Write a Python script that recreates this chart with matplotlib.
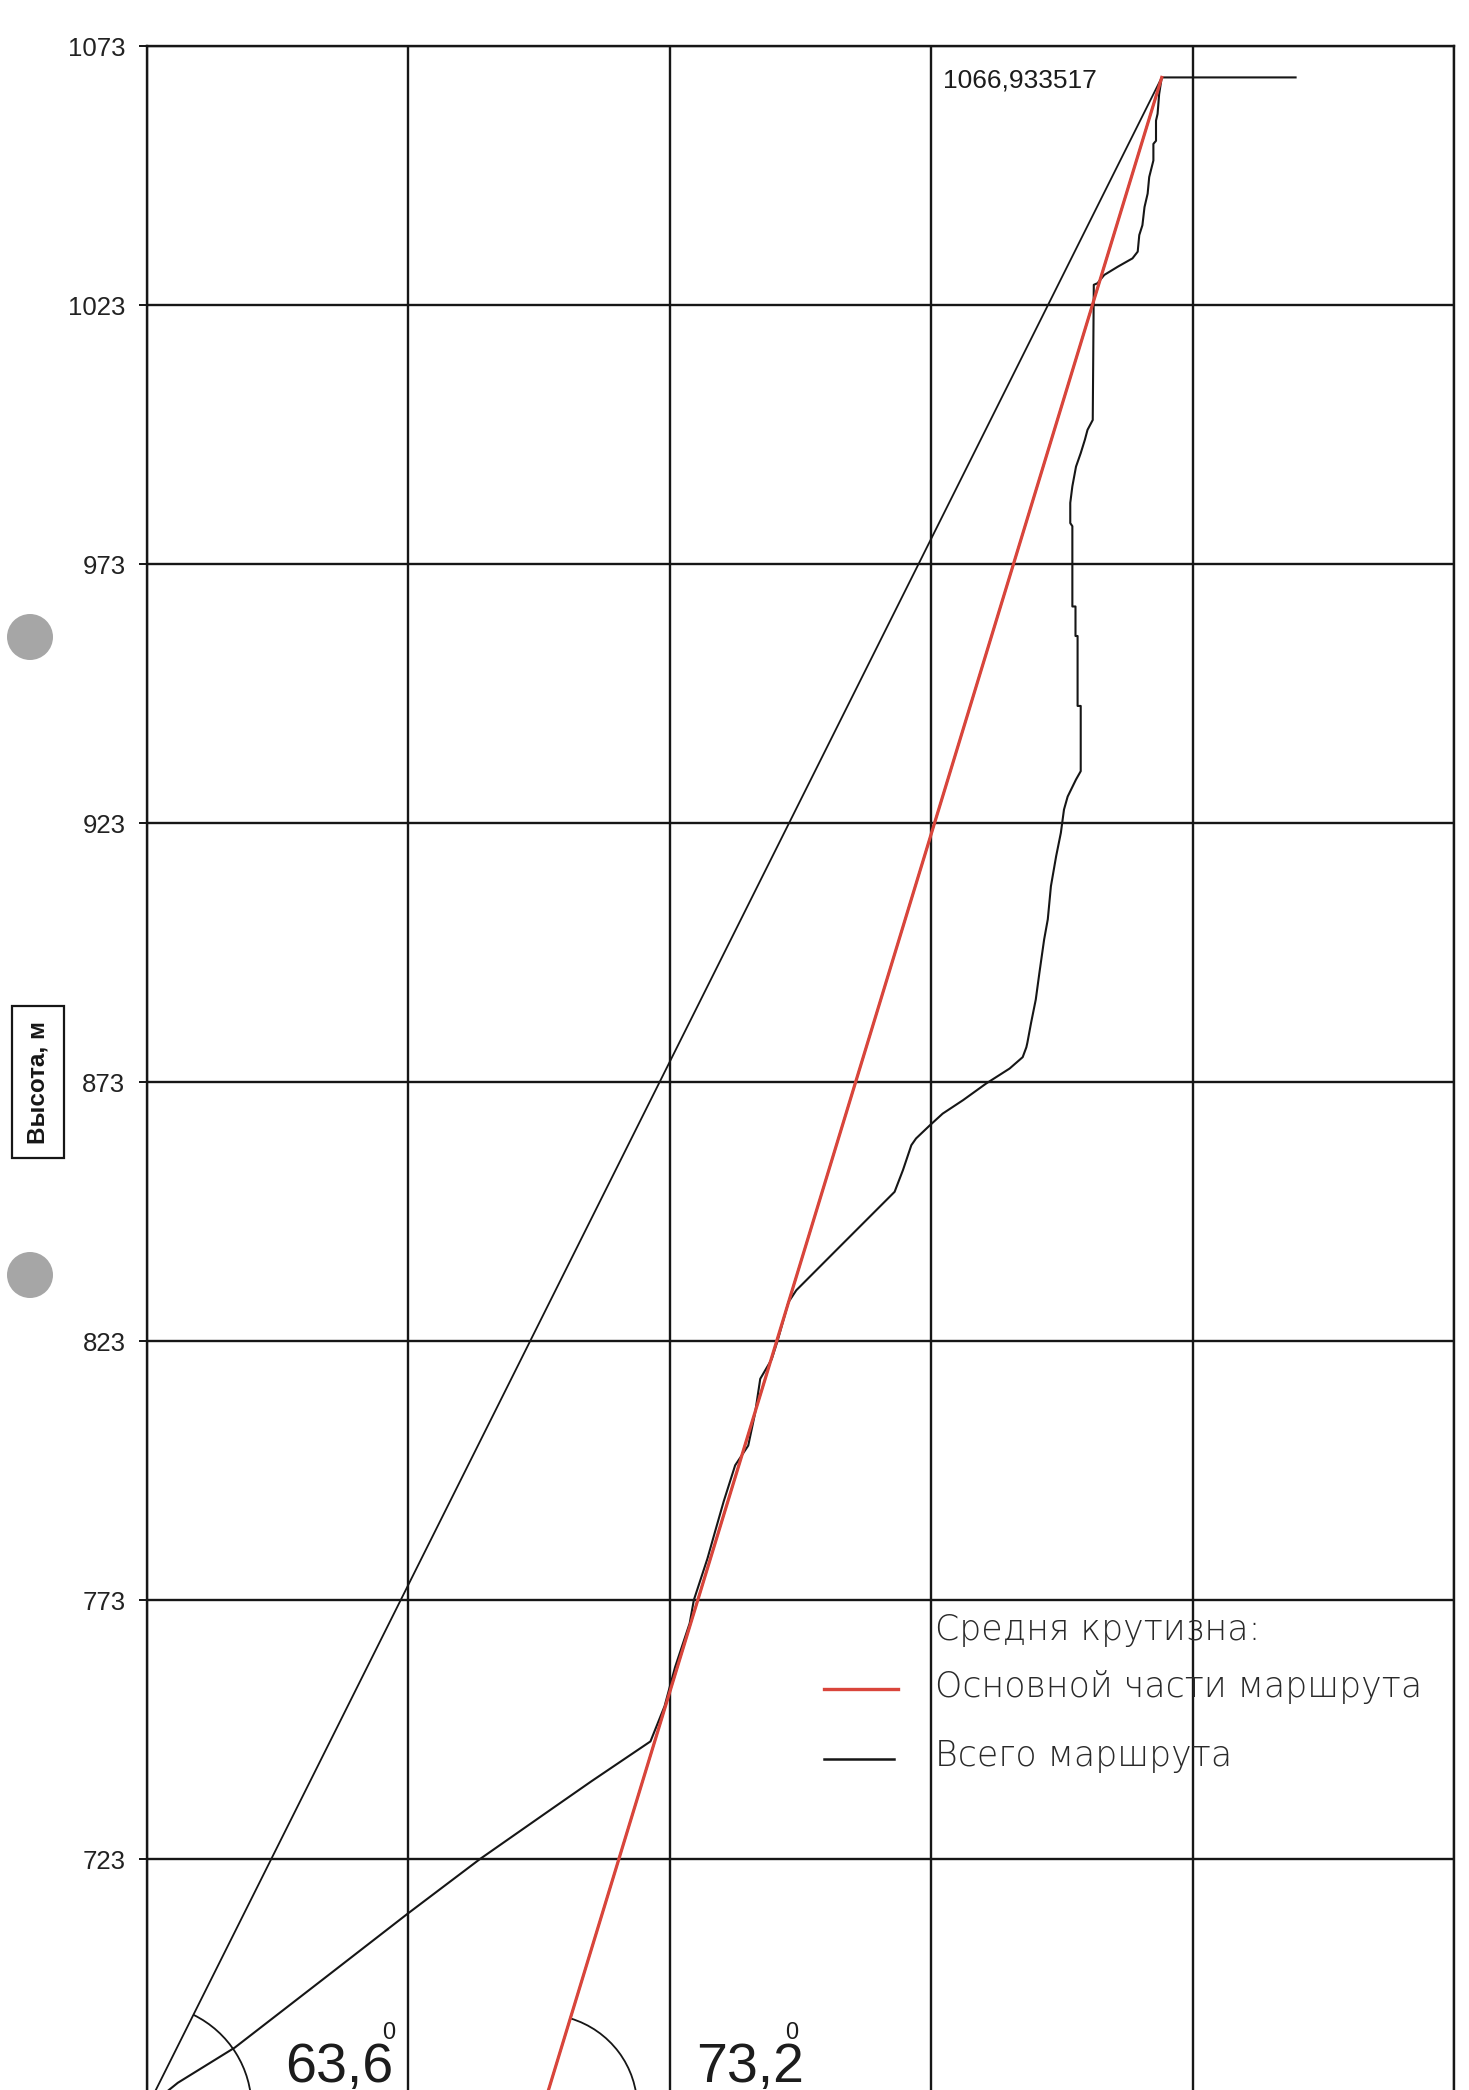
import matplotlib
matplotlib.use("Agg")
import numpy as np
import matplotlib.pyplot as plt
from matplotlib import font_manager
from matplotlib.patches import Arc, Ellipse

# --- data: route profile, metres (x = horizontal distance, y = height) ---
profile_x = [0.0, 5.9, 16.8, 33.7, 49.8, 63.7, 77.6, 85.0, 96.3,
             99.0, 101.0, 103.8, 104.6, 107.2, 108.6, 110.3, 112.5, 115.0, 116.3, 117.3, 119.5, 120.6, 122.7, 124.2,
             132.5, 143.0, 144.6, 146.2, 147.1, 149.7, 152.2, 156.1, 160.5, 165.0, 167.5, 168.2,
             168.4, 169.1, 170.0, 170.7, 171.6, 172.3, 172.9, 173.9, 174.8, 175.4, 176.1, 177.7, 178.6,
             178.6, 178.0, 178.0, 177.6, 177.6, 177.0, 177.0, 176.6, 176.6, 177.0, 177.7, 178.6, 179.4, 179.9, 180.9,
             181.1, 181.8, 183.1, 185.7, 188.5, 189.5, 189.8, 190.4, 190.8, 191.4, 191.7, 192.5, 192.5, 193.0, 193.0,
             193.3, 193.6, 194.0, 194.1, 219.7]
profile_y = [675.0, 679.8, 686.6, 699.8, 712.4, 723.0, 732.8, 738.0, 745.7,
             752.5, 760.0, 768.5, 773.0, 781.0, 786.0, 792.0, 799.0, 802.8, 809.0, 815.7, 819.5, 823.0, 830.5, 832.8,
             841.2, 851.8, 856.0, 860.8, 862.1, 864.6, 866.9, 869.5, 872.7, 875.6, 877.8, 879.7,
             880.6, 884.4, 888.9, 894.1, 900.5, 904.4, 910.8, 916.6, 921.1, 925.6, 928.1, 931.4, 933.0,
             945.6, 945.6, 959.1, 959.1, 964.8, 964.8, 980.3, 980.9, 984.8, 988.0, 991.8, 994.4, 997.0, 998.9, 1000.8,
             1026.9, 1027.2, 1028.8, 1030.4, 1032.0, 1033.3, 1036.5, 1038.4, 1041.9, 1044.5, 1047.7, 1050.9, 1054.1,
             1054.7, 1058.6, 1059.9, 1063.7, 1066.3, 1066.933517, 1066.933517]

start_x, start_y = 0.0, 675.0
summit_x, summit_y = 194.1, 1066.933517

angle_all = 63.6    # whole route
angle_main = 73.2   # main part of route

y_ticks = [673, 723, 773, 823, 873, 923, 973, 1023, 1073]
x_ticks = [0, 50, 100, 150, 200, 250]

legend_title = "Средня крутизна:"
legend_main = "Основной части маршрута"
legend_all = "Всего маршрута"
y_label = "Высота, м"

# --- fonts ---
have = {f.name for f in font_manager.fontManager.ttflist}
def first(*cands):
    for c in cands:
        if c in have:
            return c
    return "DejaVu Sans"
arial = first("Liberation Sans", "Arial")
narrow = first("Liberation Sans Narrow", "Liberation Sans")
hand = first("DejaVu Sans")

RED = "#d9453b"
INK = "#161616"

W, H = 1469, 2090
fig = plt.figure(figsize=(W / 100, H / 100), dpi=100)
top_px, span_px = 46, 2072
ax = fig.add_axes([147 / W, (H - top_px - span_px) / H, 1307 / W, span_px / H])
ax.set_xlim(x_ticks[0], x_ticks[-1])
ax.set_ylim(y_ticks[0], y_ticks[-1])

ax.set_xticks(x_ticks)
ax.set_yticks(y_ticks)
ax.set_yticklabels([str(v) for v in y_ticks], fontsize=18.5, family=arial, color="#222222")
ax.tick_params(axis="y", length=5.5, width=1.4, pad=10, color=INK)
ax.tick_params(axis="x", length=0, labelbottom=False)
ax.grid(True, color=INK, linewidth=1.7)
for s in ax.spines.values():
    s.set_color(INK)
    s.set_linewidth(1.7)
ax.set_axisbelow(True)

# profile
ax.plot(profile_x, profile_y, color=INK, lw=1.5, zorder=3)

# average slope of whole route
ax.plot([start_x, summit_x], [start_y, summit_y], color=INK, lw=1.3, zorder=3)

# average slope of main part (red line, ends at summit)
base_main_x = summit_x - (summit_y - start_y) / np.tan(np.radians(angle_main))
ax.plot([base_main_x, summit_x], [start_y, summit_y], color=INK, lw=1.4, zorder=3)
ax.plot([base_main_x, summit_x], [start_y, summit_y], color=RED, lw=2.3, zorder=4)

# angle arcs
ax.add_patch(Arc((start_x, start_y), 40, 40, theta1=0, theta2=angle_all, color=INK, lw=1.3, zorder=3))
ax.add_patch(Arc((base_main_x, start_y), 36, 36, theta1=0, theta2=angle_main, color=INK, lw=1.3, zorder=3))

ax.text(26.5, 680.0, f"{angle_all:.1f}".replace(".", ","), fontsize=40, family=narrow,
        color="#1c1c1c", va="baseline", ha="left")
ax.text(44.9, 688.3, "0", fontsize=17, family=narrow, color="#1c1c1c", va="baseline", ha="left")
ax.text(105.0, 680.0, f"{angle_main:.1f}".replace(".", ","), fontsize=40, family=narrow,
        color="#1c1c1c", va="baseline", ha="left")
ax.text(122.0, 688.3, "0", fontsize=17, family=narrow, color="#1c1c1c", va="baseline", ha="left")

# summit label
ax.text(152.3, 1064.9, f"{summit_y:.6f}".replace(".", ","), fontsize=19, family=arial,
        color="#1c1c1c", va="baseline", ha="left")

# handwritten legend
ax.text(150.8, 765.2, legend_title, fontsize=25, family=hand, fontweight="light",
        color="#2a2a2a", va="baseline", ha="left")
ax.text(150.8, 754.2, legend_main, fontsize=25, family=hand, fontweight="light",
        color="#2a2a2a", va="baseline", ha="left")
ax.text(150.8, 740.9, legend_all, fontsize=25, family=hand, fontweight="light",
        color="#2a2a2a", va="baseline", ha="left")
ax.plot([129.4, 143.7], [755.8, 755.8], color=RED, lw=2.4, zorder=4)
ax.plot([129.4, 142.9], [742.3, 742.3], color=INK, lw=1.8, zorder=4)

# boxed y label
ax.text((38 - 147) / 1307, 0.5, y_label, transform=ax.transAxes,
        rotation=90, ha="center", va="center", fontsize=17.5, fontweight="bold", family=arial,
        color=INK, bbox=dict(boxstyle="square,pad=0.6", fc="white", ec=INK, lw=1.6))

# punch holes of the scanned sheet
for yc in (637, 1275):
    fig.add_artist(Ellipse((30 / W, 1 - yc / H), 46 / W, 46 / H, transform=fig.transFigure,
                           fc="#a6a6a6", ec="none"))

fig.savefig("out.png", dpi=100)
